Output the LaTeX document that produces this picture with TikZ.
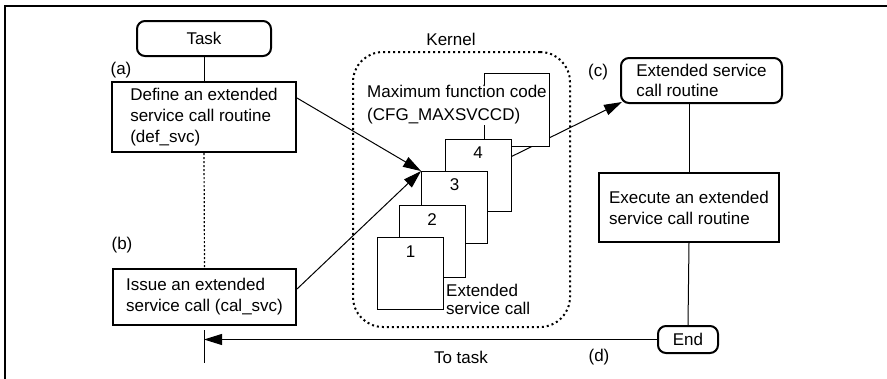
\documentclass[tikz,border=0pt]{standalone}
\usepackage{fontspec}
\setmainfont{Liberation Sans}
\usetikzlibrary{arrows.meta,backgrounds}
\tikzset{
	flowbox/.style={draw, line width=2pt, align=left, inner sep=0pt},
	endbox/.style={flowbox, rounded corners=8pt},
	svccard/.style={draw, fill=white, line width=0.9pt, minimum width=66pt, minimum height=72pt, inner sep=0pt},
	link/.style={line width=1pt},
	callarrow/.style={line width=1pt, -{Triangle[length=18pt,width=11pt]}},
}

\begin{document}
\begin{tikzpicture}[x=1pt, y=-1pt, font=\fontsize{17}{21}\selectfont]
			%%%%% START %%%%%
			\useasboundingbox (0,0) rectangle (887,378);
			\draw[line width=2pt] (5,380) -- (5,6) -- (889,6);
			
			% task side
			\node[endbox, minimum width=134pt, minimum height=35pt] (task) at (204,38.5) {Task};
			\node[flowbox, minimum width=184pt, minimum height=70pt] (def) at (204,117) {Define an extended\\service call routine\\(def\_svc)};
			\node[flowbox, minimum width=183pt, minimum height=56pt] (issue) at (204.5,297) {Issue an extended\\service call (cal\_svc)};
			\node (lbla) at (121,70) {(a)};
			\node (lblb) at (122,245) {(b)};
			
			\draw[link] (task.south) -- (def.north);
			\draw[line width=1.2pt, dash pattern=on 2pt off 2pt] (def.south) -- (issue.north);
			
			\coordinate (tktop) at (204,330);
			\coordinate (tkbot) at (204,363);
			\draw[link] (tktop) -- (tkbot);
			
			% kernel
			\node[draw, line width=2pt, dash pattern=on 2pt off 3pt, rounded corners=30pt, minimum width=217pt, minimum height=275pt] (kernel) at (461.5,189.5) {};
			\node (kernlbl) at (451,39) {Kernel};
			
			\node[svccard, minimum width=65pt, minimum height=73pt] (cmax) at (516.5,109.5) {};
			\node[fill=white, inner sep=1pt, align=left, anchor=west, font=\fontsize{17}{23}\selectfont] (maxtxt) at (366,105) {Maximum function code\\(CFG\_MAXSVCCD)};
			
			\node[svccard, label={[anchor=north, inner sep=0pt, yshift=-8pt]north:4}] (c4) at (478,175) {};
			\node[svccard, label={[anchor=north, inner sep=0pt, yshift=-7pt]north:3}] (c3) at (454.5,207.5) {};
			\node[svccard, label={[anchor=north, inner sep=0pt, yshift=-8pt]north:2}] (c2) at (432,241.5) {};
			\node[svccard, label={[anchor=north, inner sep=0pt, yshift=-9pt]north:1}] (c1) at (410.5,273.5) {};
			\node[anchor=west, align=left, inner sep=0pt, font=\fontsize{17}{18}\selectfont] (svclbl) at (446,299) {Extended\\service call};
			
			% routine side
			\node[endbox, minimum width=161pt, minimum height=45pt, font=\fontsize{17}{20}\selectfont] (routine) at (701.5,80.5) {Extended service\\call routine};
			\node[flowbox, minimum width=180pt, minimum height=69pt] (exec) at (689,207.5) {Execute an extended\\service call routine};
			\node[endbox, minimum width=60pt, minimum height=27pt] (end) at (688,339.5) {End};
			\node (lblc) at (598,72) {(c)};
			\node (lbld) at (599,357) {(d)};
			
			\draw[link] (exec.north |- routine.south) -- (exec.north);
			\draw[link] (exec.south) -- (end.north);
			
			% calls
			\draw[callarrow] ([yshift=19pt]def.east) -- (c3.north west);
			\draw[callarrow] ([yshift=8pt]issue.east) -- (c3.north west);
			\begin{scope}[on background layer]
				\draw[callarrow] ([yshift=-18pt]c4.north east) -- ([shift={(2pt,2pt)}]routine.south west);
			\end{scope}
			\draw[callarrow] (end.west) -- (end.west -| tktop);
			\node (totask) at (461,357) {To task};
			
			%%%%% END %%%%%
\end{tikzpicture}
\end{document}
